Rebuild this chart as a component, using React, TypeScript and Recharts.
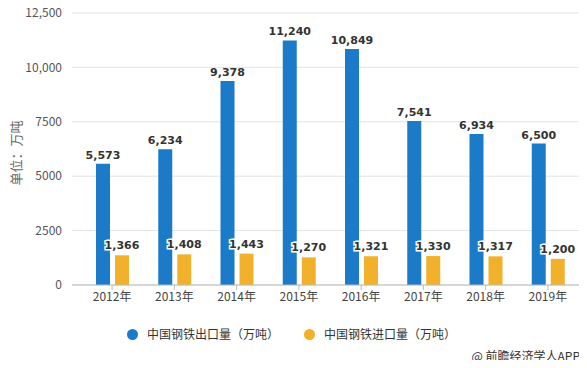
import { BarChart, Bar, XAxis, YAxis, CartesianGrid, LabelList } from "recharts";

const years = ["2012年", "2013年", "2014年", "2015年", "2016年", "2017年", "2018年", "2019年"];
const exportVolume = [5573, 6234, 9378, 11240, 10849, 7541, 6934, 6500];
const importVolume = [1366, 1408, 1443, 1270, 1321, 1330, 1317, 1200];
const yTicks = [0, 2500, 5000, 7500, 10000, 12500];

const BLUE = "#1b7bc8";
const ORANGE = "#f1b12b";
const FONT = "'Noto Sans CJK SC', 'Noto Sans', sans-serif";

const data = years.map((year, i) => ({
  year,
  exp: exportVolume[i],
  imp: importVolume[i],
}));

const fmtTick = (v: number) => (v >= 10000 ? v.toLocaleString("en-US") : String(v));
const fmtLabel = (v: any) => Number(v).toLocaleString("en-US");

export default function App() {
  return (
    <div style={{ position: "relative", width: 587, height: 368, margin: -8, background: "#fff", fontFamily: FONT, overflow: "hidden" }}>
      <BarChart
        width={587}
        height={368}
        data={data}
        margin={{ top: 13, right: 8, bottom: 53, left: 0 }}
        barSize={14}
        barGap={5}
      >
        <CartesianGrid vertical={false} stroke="#e3e3e3" />
        <XAxis
          dataKey="year"
          height={30}
          padding={{ left: 9, right: 0 }}
          stroke="#bbbbbb"
          tickSize={5}
          tick={{ fill: "#444", fontSize: 12, fontFamily: FONT }}
          interval={0}
        />
        <YAxis
          width={72}
          domain={[0, 12500]}
          ticks={yTicks}
          tickFormatter={fmtTick}
          axisLine={false}
          tickLine={false}
          tickMargin={4}
          tick={{ fill: "#555", fontSize: 12, fontFamily: FONT }}
        />
        <Bar dataKey="exp" fill={BLUE} isAnimationActive={false}>
          <LabelList
            dataKey="exp"
            position="top"
            offset={5}
            formatter={fmtLabel}
            style={{ fill: "#333", fontSize: 11, fontWeight: "bold", fontFamily: "'DejaVu Sans', sans-serif" }}
          />
        </Bar>
        <Bar dataKey="imp" fill={ORANGE} isAnimationActive={false}>
          <LabelList
            dataKey="imp"
            position="top"
            offset={6}
            formatter={fmtLabel}
            style={{
              fill: "#333",
              fontSize: 11,
              fontWeight: "bold",
              fontFamily: "'DejaVu Sans', sans-serif",
              stroke: "#fff",
              strokeWidth: 3,
              paintOrder: "stroke",
            }}
          />
        </Bar>
      </BarChart>
      <div
        style={{
          position: "absolute",
          left: 8,
          top: 153,
          transform: "translate(-50%, -50%) rotate(-90deg)",
          transformOrigin: "center",
          color: "#666",
          fontSize: 13,
          whiteSpace: "nowrap",
          marginLeft: 7,
        }}
      >
        单位：万吨
      </div>
      <div style={{ position: "absolute", top: 325, left: 127, display: "flex", alignItems: "center", fontSize: 12, color: "#333", lineHeight: "18px" }}>
        <span style={{ width: 11, height: 11, borderRadius: "50%", background: BLUE, display: "inline-block", marginRight: 9 }} />
        <span>中国钢铁出口量（万吨）</span>
        <span style={{ width: 11, height: 11, borderRadius: "50%", background: ORANGE, display: "inline-block", marginLeft: 25, marginRight: 9 }} />
        <span>中国钢铁进口量（万吨）</span>
      </div>
      <div style={{ position: "absolute", top: 347, right: 7, fontSize: 12, color: "#333", lineHeight: "18px" }}>@ 前瞻经济学人APP</div>
    </div>
  );
}
